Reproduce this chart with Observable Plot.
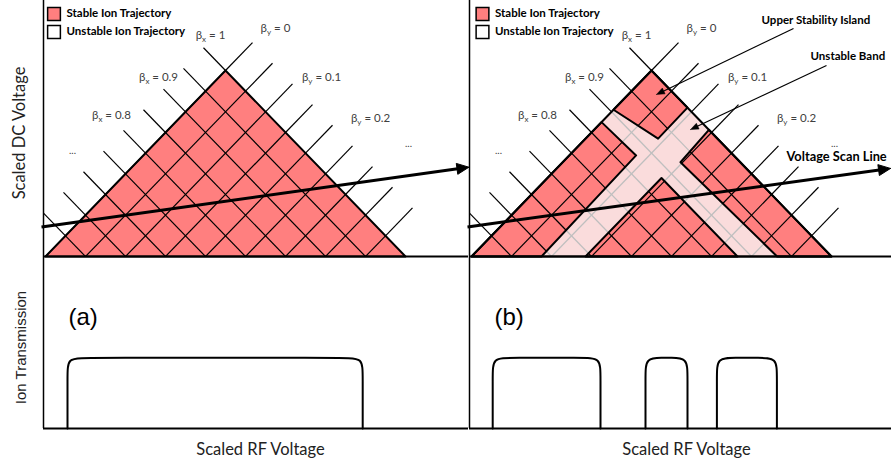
<!DOCTYPE html>
<html>
<head>
<meta charset="utf-8">
<script src="https://cdn.jsdelivr.net/npm/d3@7"></script>
<script src="https://cdn.jsdelivr.net/npm/@observablehq/plot@0.6"></script>
<style>
  html, body { margin: 0; padding: 0; background: #fff; }
  #fig { position: relative; width: 891px; height: 463px; overflow: hidden; background: #fff; }
  #fig > svg { position: absolute; }
</style>
</head>
<body>
<div id="fig"></div>
<script>
// ---------------- data (diagram units: u = scaled RF, v = scaled DC) ----------------
const divisions = 9;                       // iso-beta divisions along each side of the stability triangle
const panels = ["a", "b"];
const triangle = [[-9, 0], [0, 9], [9, 0]];
// panel (b): stable regions
const islandPoly = [[0, 9], [1.8, 7.2], [0.33, 5.7], [-1.9, 7.1]];
const leftArmPoly = [[-9, 0], [-2.5, 6.5], [-0.77, 4.89], [-5.5, 0]];
const rightArmPoly = [[9, 0], [2.87, 6.13], [1.45, 4.56], [6.28, 0]];
const lowerPoly = [[-3.3, 0], [0.5, 3.8], [4.3, 0]];
// labels
const betaXLabels = ["β_x = 1", "β_x = 0.9", "β_x = 0.8"];
const betaYLabels = ["β_y = 0", "β_y = 0.1", "β_y = 0.2"];
const legendLabels = ["Stable Ion Trajectory", "Unstable Ion Trajectory"];
const annotationLabels = ["Upper Stability Island", "Unstable Band", "Voltage Scan Line"];
const panelLabels = ["(a)", "(b)"];
// scan line
const scanStart = [-9.2, 1.43];
const scanEndA = [12.17, 4.32];
const scanEndB = [11.95, 4.26];
// ion transmission windows (scaled RF)
const windowsA = [[-7.9, 6.86]];
const windowsB = [[-7.94, -2.55], [-0.3, 1.8], [3.27, 6.27]];
const transmissionLevel = 1;

// annotation anchors (diagram units)
const betaXPos = [[-0.75, 10.69], [-3.35, 8.66], [-5.7, 6.82]];
const betaYPos = [[2.5, 11.03], [4.8, 8.66], [7.25, 6.68]];
const ellipsisPos = [[-7.65, 5.13], [9.15, 5.47]];
const annotationPos = [[5.5, 11.42], [7.95, 9.68], [6.75, 4.84]];
const islandArrow = [[7.1, 11.03], [0.25, 7.84]];
const bandArrow = [[8.75, 9.24], [1.95, 6.14]];

// ---------------- style ----------------
const RED = "#ff7f7f", PINK = "#fadcdc", GRAY = "#bfbfbf", INK = "#000", LABEL = "#404040";
const FONT = "Lato, 'Open Sans', sans-serif";
const ARIAL = "'Liberation Sans', Arial, sans-serif";
const uMin = -9.1;
const topH = 257, vMin = -0.0484, vMax = 12.385;
const botH = 206, botMB = 35, tMax = 2.42;
const layout = {
  a: {left: 0, width: 468, ml: 43, uMax: 12.15},
  b: {left: 468, width: 423, ml: 1, uMax: 12.0}
};
const stubLeft = 1.1, stubRight = 1.35;

// ---------------- geometry helpers ----------------
function inside(p, poly) {
  let c = false;
  for (let i = 0, j = poly.length - 1; i < poly.length; j = i++) {
    const [xi, yi] = poly[i], [xj, yj] = poly[j];
    if (((yi > p[1]) !== (yj > p[1])) && (p[0] < (xj - xi) * (p[1] - yi) / (yj - yi) + xi)) c = !c;
  }
  return c;
}
function clipSegment(p0, p1, poly) {
  const dx = p1[0] - p0[0], dy = p1[1] - p0[1];
  const ts = [0, 1];
  for (let i = 0; i < poly.length; i++) {
    const a = poly[i], b = poly[(i + 1) % poly.length];
    const ex = b[0] - a[0], ey = b[1] - a[1];
    const den = dx * ey - dy * ex;
    if (Math.abs(den) < 1e-12) continue;
    const t = ((a[0] - p0[0]) * ey - (a[1] - p0[1]) * ex) / den;
    const s = ((a[0] - p0[0]) * dy - (a[1] - p0[1]) * dx) / den;
    if (t > 0 && t < 1 && s >= -1e-9 && s <= 1 + 1e-9) ts.push(t);
  }
  ts.sort((x, y) => x - y);
  const out = [];
  for (let k = 0; k < ts.length - 1; k++) {
    const t0 = ts[k], t1 = ts[k + 1];
    if (t1 - t0 < 1e-9) continue;
    const tm = (t0 + t1) / 2;
    if (inside([p0[0] + dx * tm, p0[1] + dy * tm], poly)) out.push({
      x1: p0[0] + dx * t0, y1: p0[1] + dy * t0, x2: p0[0] + dx * t1, y2: p0[1] + dy * t1
    });
  }
  return out;
}
function gridSegments() {
  const idx = d3.range(divisions);
  const downRight = idx.map(b => [[-b, divisions - b], [divisions - 2 * b, 0]]);
  const upRight = idx.map(a => [[2 * a - divisions, 0], [a, divisions - a]]);
  return downRight.concat(upRight);
}
function stubSegments() {
  const idx = d3.range(divisions);
  return idx.map(b => ({x1: -b - stubLeft, y1: divisions - b + stubLeft, x2: -b, y2: divisions - b}))
    .concat(idx.map(a => ({x1: a, y1: divisions - a, x2: a + stubRight, y2: divisions - a + stubRight})));
}
const clipAll = (segs, polys) => segs.flatMap(([p0, p1]) => polys.flatMap(poly => clipSegment(p0, p1, poly)));
const ring = (poly, id) => poly.concat([poly[0]]).map(([x, y]) => ({x, y, id}));

function arrowParts(from, tip, len, half, kx, ky) {
  const dxp = (tip[0] - from[0]) * kx, dyp = (tip[1] - from[1]) * ky;
  const L = Math.hypot(dxp, dyp), ux = dxp / L, uy = dyp / L;
  const nx = -uy, ny = ux;
  const bx = -ux * len, by = -uy * len;
  const head = [[0, 0], [bx + nx * half, by + ny * half], [bx - nx * half, by - ny * half], [0, 0]]
    .map(([px, py]) => ({x: tip[0] + px / kx, y: tip[1] + py / ky}));
  const end = [tip[0] - ux * len * 0.8 / kx, tip[1] - uy * len * 0.8 / ky];
  return {shaft: [{x1: from[0], y1: from[1], x2: end[0], y2: end[1]}], head};
}

function subscriptBetas(svg) {
  const ns = "http://www.w3.org/2000/svg";
  svg.querySelectorAll("text").forEach(t => {
    const m = /^β_([xy])(.*)$/.exec(t.textContent);
    if (!m) return;
    t.textContent = "";
    const a = document.createElementNS(ns, "tspan"); a.textContent = "β";
    const b = document.createElementNS(ns, "tspan"); b.textContent = m[1];
    b.setAttribute("font-size", "8"); b.setAttribute("dy", "3");
    const c = document.createElementNS(ns, "tspan"); c.textContent = m[2]; c.setAttribute("dy", "-3");
    t.append(a, b, c);
  });
}

// ---------------- top: stability diagrams ----------------
function topPlot(p) {
  const L = layout[p], isB = p === "b";
  const kx = (L.width - L.ml) / (L.uMax - uMin), ky = topH / (vMax - vMin);
  const stable = isB ? [islandPoly, leftArmPoly, rightArmPoly, lowerPoly] : [triangle];
  const grid = gridSegments();
  const scan = arrowParts(scanStart, isB ? scanEndB : scanEndA, 12, 5.5, kx, ky);
  const seg = {x1: "x1", y1: "y1", x2: "x2", y2: "y2"};
  const legDx = isB ? 13 : 10.5;
  const marks = [
    Plot.line(ring(triangle, "t"), {x: "x", y: "y", fill: isB ? PINK : RED, stroke: "none"})
  ];
  if (isB) {
    marks.push(Plot.link(clipAll(grid, [triangle]), {...seg, stroke: GRAY, strokeWidth: 1.3}));
    marks.push(Plot.line(stable.flatMap((q, i) => ring(q, i)), {x: "x", y: "y", z: "id", fill: RED, stroke: "none"}));
  }
  marks.push(
    Plot.link(clipAll(grid, stable), {...seg, stroke: INK, strokeWidth: 1.2}),
    Plot.link(stubSegments(), {...seg, stroke: INK, strokeWidth: 1.2})
  );
  if (isB) marks.push(Plot.line(stable.flatMap((q, i) => ring(q, i)), {x: "x", y: "y", z: "id", stroke: INK, strokeWidth: 2}));
  marks.push(
    Plot.line(ring(triangle, "t"), {x: "x", y: "y", stroke: INK, strokeWidth: 2}),
    Plot.ruleY([0], {stroke: INK, strokeWidth: 2}),
    Plot.ruleX([uMin], {stroke: INK, strokeWidth: 1.5}),
    Plot.link(scan.shaft, {...seg, stroke: INK, strokeWidth: 3}),
    Plot.line(scan.head, {x: "x", y: "y", fill: INK, stroke: INK, strokeWidth: 1}),
    Plot.text(betaXLabels, {x: (d, i) => betaXPos[i][0], y: (d, i) => betaXPos[i][1], text: d => d, fill: LABEL, fontSize: 11.5}),
    Plot.text(betaYLabels, {x: (d, i) => betaYPos[i][0], y: (d, i) => betaYPos[i][1], text: d => d, fill: LABEL, fontSize: 11.5}),
    Plot.text(ellipsisPos, {x: d => d[0], y: d => d[1], text: () => "...", fill: LABEL, fontSize: 10}),
    Plot.dot([legendLabels[0]], {frameAnchor: "top-left", dx: legDx, dy: 13.5, symbol: "square", r: 7.2, fill: RED, stroke: INK, strokeWidth: 1.5}),
    Plot.dot([legendLabels[1]], {frameAnchor: "top-left", dx: legDx, dy: 31.5, symbol: "square", r: 7.2, fill: "white", stroke: INK, strokeWidth: 1.5}),
    Plot.text([legendLabels[0]], {frameAnchor: "top-left", dx: legDx + 12.5, dy: 13, text: d => d, textAnchor: "start", lineAnchor: "middle", fontWeight: "bold", fontSize: 11.5, fill: INK}),
    Plot.text([legendLabels[1]], {frameAnchor: "top-left", dx: legDx + 12.5, dy: 31, text: d => d, textAnchor: "start", lineAnchor: "middle", fontWeight: "bold", fontSize: 11.5, fill: INK})
  );
  if (!isB) {
    marks.push(Plot.text(["Scaled DC Voltage"], {frameAnchor: "left", dx: -24, dy: 4, rotate: -90, textAnchor: "middle", lineAnchor: "middle", text: d => d, fontSize: 16.5, fill: "#222"}));
  } else {
    const a1 = arrowParts(islandArrow[0], islandArrow[1], 8, 3.2, kx, ky);
    const a2 = arrowParts(bandArrow[0], bandArrow[1], 8, 3.2, kx, ky);
    marks.push(
      Plot.link([...a1.shaft, ...a2.shaft], {...seg, stroke: INK, strokeWidth: 1.1}),
      Plot.line([...a1.head.map(d => ({...d, id: 1})), ...a2.head.map(d => ({...d, id: 2}))], {x: "x", y: "y", z: "id", fill: INK, stroke: INK, strokeWidth: 0.5}),
      Plot.text(annotationLabels.slice(0, 2), {x: (d, i) => annotationPos[i][0], y: (d, i) => annotationPos[i][1], text: d => d, textAnchor: "start", fontWeight: "bold", fontSize: 11.5, fill: INK}),
      Plot.text([annotationLabels[2]], {x: annotationPos[2][0], y: annotationPos[2][1], text: d => d, textAnchor: "start", fontWeight: "bold", fontSize: 12.8, fill: INK, stroke: "white", strokeWidth: 4})
    );
  }
  const svg = Plot.plot({
    width: L.width, height: topH,
    marginLeft: L.ml, marginRight: 0, marginTop: 0, marginBottom: 0,
    x: {domain: [uMin, L.uMax], axis: null},
    y: {domain: [vMin, vMax], axis: null},
    style: {fontFamily: FONT, background: "transparent", overflow: "visible"},
    marks
  });
  subscriptBetas(svg);
  svg.style.left = L.left + "px";
  svg.style.top = "0px";
  return svg;
}

// ---------------- bottom: ion transmission ----------------
function bottomPlot(p) {
  const L = layout[p], isB = p === "b";
  const kx = (L.width - L.ml) / (L.uMax - uMin), ky = (botH - botMB) / tMax;
  const rx = 17.6 / kx, ry = 17.6 / ky, h = transmissionLevel;
  const wins = isB ? windowsB : windowsA;
  const pts = wins.flatMap(([x0, x1], w) =>
    [[x0, 0], [x0, h - ry], [x0, h], [x0 + rx, h], [x1 - rx, h], [x1, h], [x1, h - ry], [x1, 0]]
      .map(([x, y]) => ({x, y, w})));
  const marks = [
    Plot.line(pts, {x: "x", y: "y", z: "w", curve: "basis", stroke: INK, strokeWidth: 2}),
    Plot.ruleY([0], {stroke: INK, strokeWidth: 2}),
    Plot.ruleX([uMin], {stroke: INK, strokeWidth: 1.5}),
    Plot.text([panelLabels[isB ? 1 : 0]], {frameAnchor: "top-left", dx: 25, dy: 60, text: d => d, textAnchor: "start", lineAnchor: "middle", fontSize: 24, fontFamily: ARIAL, fill: INK}),
    Plot.text(["Scaled RF Voltage"], {frameAnchor: "bottom", dx: isB ? 6 : 4.5, dy: 21, text: d => d, lineAnchor: "middle", fontSize: 16.5, fill: "#222"})
  ];
  if (!isB) marks.push(Plot.text(["Ion Transmission"], {frameAnchor: "left", dx: -22, dy: 4.5, rotate: -90, textAnchor: "middle", lineAnchor: "middle", text: d => d, fontSize: 15, fontFamily: ARIAL, fill: "#222"}));
  const svg = Plot.plot({
    width: L.width, height: botH,
    marginLeft: L.ml, marginRight: 0, marginTop: 0, marginBottom: botMB,
    x: {domain: [uMin, L.uMax], axis: null},
    y: {domain: [0, tMax], axis: null},
    style: {fontFamily: FONT, background: "transparent", overflow: "visible"},
    marks
  });
  svg.style.left = L.left + "px";
  svg.style.top = topH + "px";
  return svg;
}

const fig = document.getElementById("fig");
for (const p of panels) {
  fig.append(bottomPlot(p));
  fig.append(topPlot(p));
}
</script>
</body>
</html>
